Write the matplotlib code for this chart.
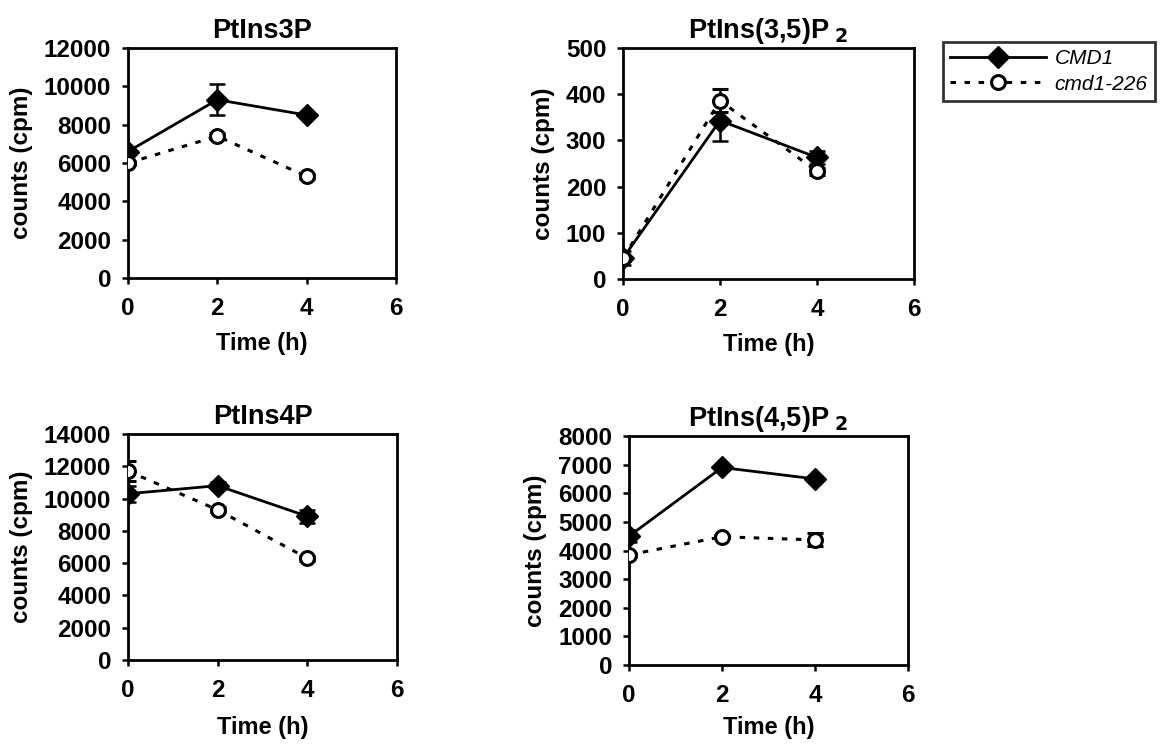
import matplotlib
matplotlib.use("Agg")
import matplotlib.pyplot as plt
from matplotlib.lines import Line2D

plt.rcParams['font.family'] = ['Liberation Sans', 'DejaVu Sans']

time_h = [0, 2, 4]

titles = ["PtIns3P", "PtIns(3,5)P$_{\\mathbf{\\ 2}}$", "PtIns4P", "PtIns(4,5)P$_{\\mathbf{\\ 2}}$"]

# PtIns3P
p3_cmd1 = [6600, 9300, 8500]
p3_cmd1_err = [150, 800, 120]
p3_mut = [6000, 7400, 5300]
p3_mut_err = [100, 150, 120]

# PtIns(3,5)P2
p35_cmd1 = [45, 343, 263]
p35_cmd1_err = [15, 45, 15]
p35_mut = [45, 386, 233]
p35_mut_err = [5, 25, 8]

# PtIns4P
p4_cmd1 = [10300, 10800, 8900]
p4_cmd1_err = [500, 200, 400]
p4_mut = [11700, 9300, 6300]
p4_mut_err = [600, 150, 150]

# PtIns(4,5)P2
p45_cmd1 = [4500, 6900, 6500]
p45_cmd1_err = [200, 80, 80]
p45_mut = [3850, 4480, 4370]
p45_mut_err = [80, 60, 230]

ylims = [12000, 500, 14000, 8000]
ysteps = [2000, 100, 2000, 1000]
xticks = [0, 2, 4, 6]

series = [
    (p3_cmd1, p3_cmd1_err, p3_mut, p3_mut_err),
    (p35_cmd1, p35_cmd1_err, p35_mut, p35_mut_err),
    (p4_cmd1, p4_cmd1_err, p4_mut, p4_mut_err),
    (p45_cmd1, p45_cmd1_err, p45_mut, p45_mut_err),
]

W, H = 1163, 748
fig = plt.figure(figsize=(W / 100, H / 100), dpi=100)

boxes_px = [
    (128, 48, 396, 278),
    (623, 48, 914, 279),
    (128, 434, 397, 660),
    (629, 436, 908, 665),
]
xlabel_pads = [8, 8, 10, 6]

dash = (0, (1.8, 2.8))

for i, (x0, y0, x1, y1) in enumerate(boxes_px):
    ax = fig.add_axes([x0 / W, (H - y1) / H, (x1 - x0) / W, (y1 - y0) / H])
    c, ce, m, me = series[i]
    ax.errorbar(time_h, c, yerr=ce, color='black', lw=2.0, marker='D', ms=11,
                mfc='black', mec='black', capsize=6, capthick=1.8, elinewidth=1.8,
                zorder=3)
    ax.errorbar(time_h, m, yerr=me, color='black', lw=2.2, ls=dash, marker='o', ms=10,
                mfc='white', mec='black', mew=2.2, capsize=6, capthick=1.8, elinewidth=1.8,
                zorder=4)
    ax.set_xlim(0, 6)
    ax.set_ylim(0, ylims[i])
    ax.set_xticks(xticks)
    ax.set_yticks(list(range(0, ylims[i] + 1, ysteps[i])))
    ax.tick_params(direction='out', length=4, width=1.8, labelsize=17.5)
    ax.tick_params(axis='x', pad=10)
    ax.tick_params(axis='y', pad=8)
    for lab in ax.get_xticklabels() + ax.get_yticklabels():
        lab.set_fontweight('bold')
    for s in ax.spines.values():
        s.set_linewidth(2.0)
    ax.set_title(titles[i], fontsize=19.5, fontweight='bold', pad=7)
    ax.set_xlabel("Time (h)", fontsize=17, fontweight='bold', labelpad=xlabel_pads[i])
    ax.set_ylabel("counts (cpm)", fontsize=17.5, fontweight='bold', labelpad=8)

handles = [
    Line2D([], [], color='black', lw=2.0, marker='D', ms=11, mfc='black', mec='black'),
    Line2D([], [], color='black', lw=2.2, ls=dash, marker='o', ms=10, mfc='white',
           mec='black', mew=2.2),
]
leg = fig.legend(handles, ["CMD1", "cmd1-226"], loc='upper left',
                 bbox_to_anchor=(943 / W, 1 - 42 / H), frameon=True, fancybox=False,
                 edgecolor='black', handlelength=4.6, handletextpad=0.4,
                 borderpad=0.35, labelspacing=0.3, borderaxespad=0,
                 prop={'style': 'italic', 'size': 15})
leg.get_frame().set_linewidth(2.0)

fig.savefig("out.png", dpi=100)
